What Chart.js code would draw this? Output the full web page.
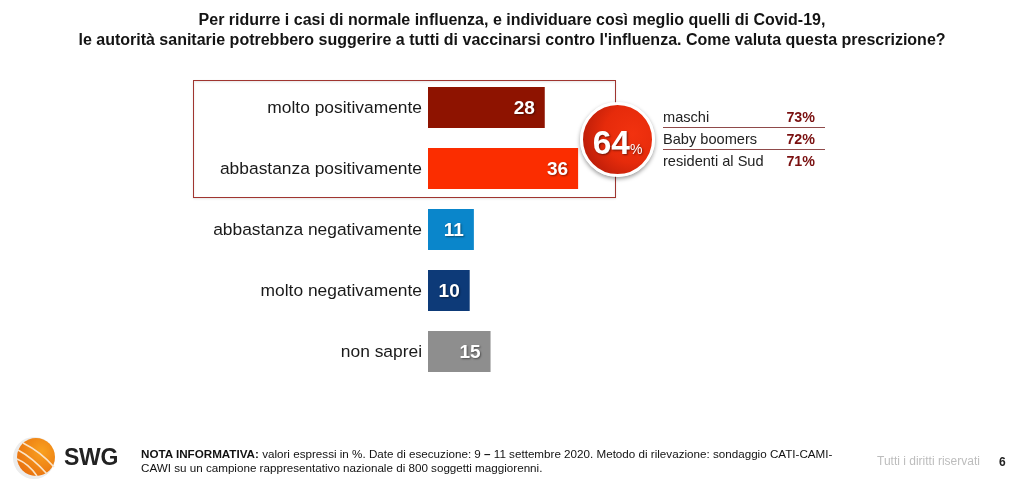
<!DOCTYPE html>
<html lang="it">
<head>
<meta charset="utf-8">
<title>SWG</title>
<script src="https://cdn.jsdelivr.net/npm/chart.js@4"></script>
<style>
html, body { margin: 0; padding: 0; background: #fff; }
body { position: relative; width: 1022px; height: 480px; overflow: hidden; font-family: "Liberation Sans", Arial, sans-serif; color: #111; }
#grafico { position: absolute; left: 0; top: 0; }
.abs { position: absolute; white-space: nowrap; }
#titolo { left: 0; width: 1024px; top: 10px; text-align: center; font-weight: bold; font-size: 16px; line-height: 20px; color: #141414; }
#cerchio { left: 580px; top: 102px; width: 69px; height: 69px; border-radius: 50%; border: 3px solid #fff; box-shadow: 0 2px 4px rgba(0,0,0,.4); background: radial-gradient(circle at 72% 42%, #f2320f 0%, #e62b0b 45%, #a51608 100%); color: #fff; text-align: center; line-height: 76px; font-weight: bold; font-size: 33.5px; text-shadow: 1px 1px 2px rgba(0,0,0,.5); }
#cerchio small { font-size: 14px; font-weight: normal; }
.riga { left: 663px; width: 162px; height: 21px; line-height: 22px; font-size: 14.6px; color: #222; }
.riga b { position: absolute; right: 10px; top: 0; font-size: 14.3px; color: #7a1010; }
.bordo { border-bottom: 1px solid #8f4a4a; }
#nota { left: 141px; top: 447px; font-size: 11.65px; line-height: 13.5px; color: #111; }
#diritti { left: 877px; top: 454px; font-size: 12px; color: #bdbdbd; }
#pagina { left: 999px; top: 455px; font-size: 12px; font-weight: bold; color: #222; }
#swg { left: 64px; top: 444px; font-size: 23px; font-weight: bold; color: #222; letter-spacing: -.3px; }
</style>
</head>
<body>
<canvas id="grafico" width="1022" height="480"></canvas>

<div id="titolo" class="abs">Per ridurre i casi di normale influenza, e individuare così meglio quelli di Covid-19,<br>le autorità sanitarie potrebbero suggerire a tutti di vaccinarsi contro l'influenza. Come valuta questa prescrizione?</div>

<div id="cerchio" class="abs">64<small>%</small></div>
<div id="tabella"></div>

<svg class="abs" style="left:11px;top:436px" width="50" height="44" viewBox="0 0 50 44">
	<defs>
		<radialGradient id="arancio" cx="65%" cy="35%" r="75%">
			<stop offset="0" stop-color="#f9a11f"/>
			<stop offset="1" stop-color="#e8700f"/>
		</radialGradient>
	</defs>
	<circle cx="23" cy="22" r="21" fill="#ececec"/>
	<circle cx="25" cy="21" r="19" fill="url(#arancio)"/>
	<path d="M7 14 Q22 22 36 38 M6 23 Q18 28 26 40 M12 7 Q30 16 43 31" fill="none" stroke="#fbe3c6" stroke-width="1.6"/>
</svg>
<div id="swg" class="abs">SWG</div>

<div id="nota" class="abs"><b>NOTA INFORMATIVA:</b> valori espressi in %. Date di esecuzione: 9 <b>–</b> 11 settembre 2020. Metodo di rilevazione: sondaggio CATI-CAMI-<br>CAWI su un campione rappresentativo nazionale di 800 soggetti maggiorenni.</div>
<div id="diritti" class="abs">Tutti i diritti riservati</div>
<div id="pagina" class="abs">6</div>

<script>
var categorie = ['molto positivamente', 'abbastanza positivamente', 'abbastanza negativamente', 'molto negativamente', 'non saprei'];
var valori = [28, 36, 11, 10, 15];
var colori = ['#8e1300', '#fb2d00', '#0a86cb', '#0d3a78', '#8e8e8e'];

var profili = ['maschi', 'Baby boomers', 'residenti al Sud'];
var percentuali = ['73%', '72%', '71%'];

// tabellina a destra del cerchio
var tabella = document.getElementById('tabella');
profili.forEach(function(nome, i) {
	var riga = document.createElement('div');
	riga.className = 'abs riga' + (i < 2 ? ' bordo' : '');
	riga.style.top = (106 + i * 22) + 'px';
	riga.textContent = nome;
	var perc = document.createElement('b');
	perc.textContent = percentuali[i];
	riga.appendChild(perc);
	tabella.appendChild(riga);
});

// riquadro rosso intorno alle prime due barre
var riquadro = {
	id: 'riquadro',
	beforeDatasetsDraw: function(chart) {
		var ctx = chart.ctx;
		var y = chart.scales.y;
		var alto = Math.round(y.getPixelForValue(0) - 28);
		var basso = Math.round(y.getPixelForValue(1) + 28);
		ctx.save();
		ctx.strokeStyle = '#a03530';
		ctx.lineWidth = 1;
		ctx.shadowColor = 'rgba(0,0,0,.15)';
		ctx.shadowBlur = 2;
		ctx.shadowOffsetY = 1;
		ctx.strokeRect(193.5, alto + 0.5, 422, basso - alto);
		ctx.restore();
	}
};

// numeri bianchi dentro le barre
var etichette = {
	id: 'etichette',
	afterDatasetsDraw: function(chart) {
		var ctx = chart.ctx;
		chart.getDatasetMeta(0).data.forEach(function(barra, i) {
			ctx.save();
			ctx.font = 'bold 19px "Liberation Sans", Arial, sans-serif';
			ctx.fillStyle = '#fff';
			ctx.textAlign = 'right';
			ctx.textBaseline = 'middle';
			ctx.shadowColor = 'rgba(0,0,0,.45)';
			ctx.shadowBlur = 2;
			ctx.shadowOffsetX = 1;
			ctx.shadowOffsetY = 1;
			ctx.fillText(valori[i], barra.x - 10, barra.y + 1);
			ctx.restore();
		});
	}
};

new Chart(document.getElementById('grafico'), {
	type: 'bar',
	data: {
		labels: categorie,
		datasets: [{
			data: valori,
			backgroundColor: colori,
			borderWidth: 0,
			categoryPercentage: 1,
			barPercentage: 0.67
		}]
	},
	options: {
		indexAxis: 'y',
		responsive: false,
		animation: false,
		layout: { padding: { left: 0, top: 77, right: 177, bottom: 98 } },
		plugins: {
			legend: { display: false },
			title: { display: false },
			tooltip: { enabled: false }
		},
		scales: {
			x: {
				display: false,
				min: 0,
				max: 100
			},
			y: {
				afterFit: function(scala) { scala.width = 428; },
				grid: { display: false },
				border: { display: false },
				ticks: {
					color: '#1a1a1a',
					padding: -2,
					labelOffset: 1,
					font: { family: '"Liberation Sans", Arial, sans-serif', size: 17.4 }
				}
			}
		}
	},
	plugins: [riquadro, etichette]
});
</script>
</body>
</html>
